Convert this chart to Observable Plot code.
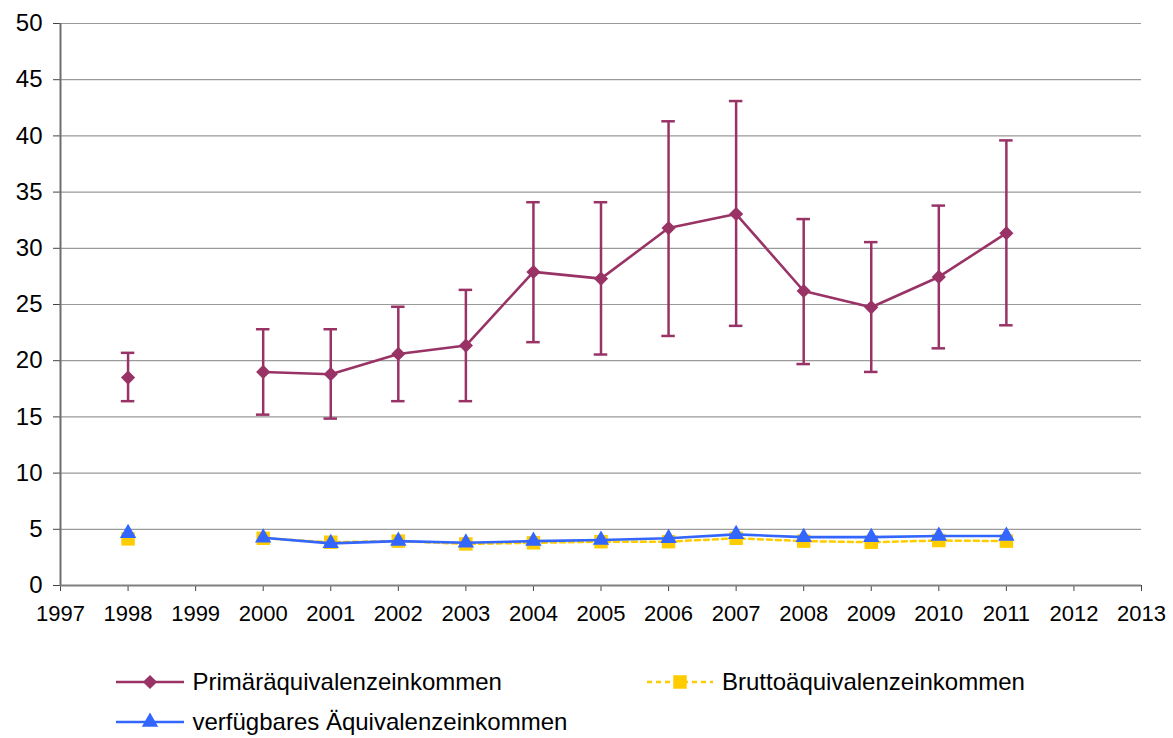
<!DOCTYPE html>
<html>
<head>
<meta charset="utf-8">
<script src="https://cdn.jsdelivr.net/npm/d3@7"></script>
<script src="https://cdn.jsdelivr.net/npm/@observablehq/plot@0.6"></script>
<style>
  body { margin: 0; background: #fff; font-family: "Liberation Sans", Arial, sans-serif; }
  #chart { width: 1173px; height: 640px; }
  #legend { position: relative; width: 1173px; height: 98px; }
  .item { position: absolute; display: flex; align-items: center; height: 30px; font-size: 24px; color: #000; white-space: nowrap; }
  .item svg { display: block; }
</style>
</head>
<body>
<div id="chart"></div>
<div id="legend"></div>
<script>
// ---- data ----
const years = [1998, 1999, 2000, 2001, 2002, 2003, 2004, 2005, 2006, 2007, 2008, 2009, 2010, 2011];
const primaer     = [18.5, null, 19.0, 18.8, 20.6, 21.35, 27.9, 27.3, 31.8, 33.05, 26.2, 24.75, 27.45, 31.35];
const primaerLow  = [16.4, null, 15.2, 14.85, 16.4, 16.4, 21.65, 20.55, 22.2, 23.1, 19.7, 19.0, 21.1, 23.15];
const primaerHigh = [20.7, null, 22.8, 22.8, 24.8, 26.3, 34.1, 34.1, 41.3, 43.1, 32.6, 30.55, 33.8, 39.6];
const brutto      = [4.15, null, 4.2, 3.85, 3.95, 3.7, 3.8, 3.9, 3.9, 4.2, 3.95, 3.85, 4.0, 3.95];
const verfuegbar  = [4.65, null, 4.25, 3.75, 3.95, 3.8, 3.95, 4.05, 4.2, 4.55, 4.3, 4.3, 4.4, 4.4];
const seriesNames = ["Primäräquivalenzeinkommen", "Bruttoäquivalenzeinkommen", "verfügbares Äquivalenzeinkommen"];
const xTicks = [1997, 1998, 1999, 2000, 2001, 2002, 2003, 2004, 2005, 2006, 2007, 2008, 2009, 2010, 2011, 2012, 2013];
const yTicks = [0, 5, 10, 15, 20, 25, 30, 35, 40, 45, 50];

const cPrim = "#993366", cBrutto = "#FFCC00", cVerf = "#3366FF";
const num = v => (v == null ? NaN : v);
const rows = years.map((year, i) => ({
  year,
  prim: num(primaer[i]), lo: num(primaerLow[i]), hi: num(primaerHigh[i]),
  brutto: num(brutto[i]), verf: num(verfuegbar[i])
}));
const withErr = rows.filter(d => !isNaN(d.lo));
const capHalf = 0.1; // half width of error-bar caps, in years

const font = "'Liberation Sans', Arial, sans-serif";
const chart = Plot.plot({
  width: 1173,
  height: 640,
  marginLeft: 60,
  marginRight: 32,
  marginTop: 23,
  marginBottom: 55,
  style: { fontFamily: font, background: "#fff", color: "#000", overflow: "visible" },
  x: { domain: [1997, 2013] },
  y: { domain: [0, 50] },
  marks: [
    Plot.gridY(yTicks, { stroke: "#9a9a9a", strokeOpacity: 1, strokeWidth: 1.2 }),
    Plot.axisY(yTicks, { tickSize: 7, tickPadding: 11, fontSize: 24, stroke: "#444", label: null }),
    Plot.axisX(xTicks, { tickSize: 6, tickPadding: 14, fontSize: 22, stroke: "#444", tickFormat: d => String(d), label: null }),
    Plot.ruleX([1997], { stroke: "#6e6e6e", strokeWidth: 2 }),
    Plot.ruleY([0], { stroke: "#808080", strokeWidth: 2 }),
    // error bars
    Plot.ruleX(withErr, { x: "year", y1: "lo", y2: "hi", stroke: cPrim, strokeWidth: 2.5 }),
    Plot.ruleY(withErr, { y: "hi", x1: d => d.year - capHalf, x2: d => d.year + capHalf, stroke: cPrim, strokeWidth: 2.5 }),
    Plot.ruleY(withErr, { y: "lo", x1: d => d.year - capHalf, x2: d => d.year + capHalf, stroke: cPrim, strokeWidth: 2.5 }),
    // primary series
    Plot.line(rows, { x: "year", y: "prim", stroke: cPrim, strokeWidth: 2.6 }),
    Plot.dot(rows, { x: "year", y: "prim", symbol: "diamond2", r: 6.4, fill: cPrim, stroke: "none" }),
    // brutto series
    Plot.line(rows, { x: "year", y: "brutto", stroke: cBrutto, strokeWidth: 2.5, strokeDasharray: "5,4" }),
    Plot.dot(rows, { x: "year", y: "brutto", symbol: "square", r: 7.6, fill: cBrutto, stroke: "none" }),
    // verfügbar series
    Plot.line(rows, { x: "year", y: "verf", stroke: cVerf, strokeWidth: 2.6 }),
    Plot.dot(rows, { x: "year", y: "verf", symbol: "triangle", r: 6.1, fill: cVerf, stroke: "none" })
  ]
});
document.getElementById("chart").appendChild(chart);

// ---- legend (below the SVG) ----
const legend = d3.select("#legend");
const items = [
  { name: seriesNames[0], color: cPrim, symbol: d3.symbolDiamond2, r: 6.4, dash: null, left: 116, top: 27, w: 68, gap: 8.5 },
  { name: seriesNames[1], color: cBrutto, symbol: d3.symbolSquare, r: 7.6, dash: "5,4", left: 647, top: 27, w: 66, gap: 9 },
  { name: seriesNames[2], color: cVerf, symbol: d3.symbolTriangle, r: 6.1, dash: null, left: 116, top: 67, w: 68, gap: 8.5 }
];
items.forEach(it => {
  const div = legend.append("div").attr("class", "item").style("left", it.left + "px").style("top", it.top + "px");
  const svg = div.append("svg").attr("width", it.w).attr("height", 30);
  svg.append("line").attr("x1", 0).attr("x2", it.w).attr("y1", 15).attr("y2", 15)
    .attr("stroke", it.color).attr("stroke-width", 2.5).attr("stroke-dasharray", it.dash);
  svg.append("path").attr("transform", `translate(${it.w / 2},15)`)
    .attr("d", d3.symbol(it.symbol, Math.PI * it.r * it.r)()).attr("fill", it.color);
  div.append("span").style("margin-left", it.gap + "px").text(it.name);
});
</script>
</body>
</html>
